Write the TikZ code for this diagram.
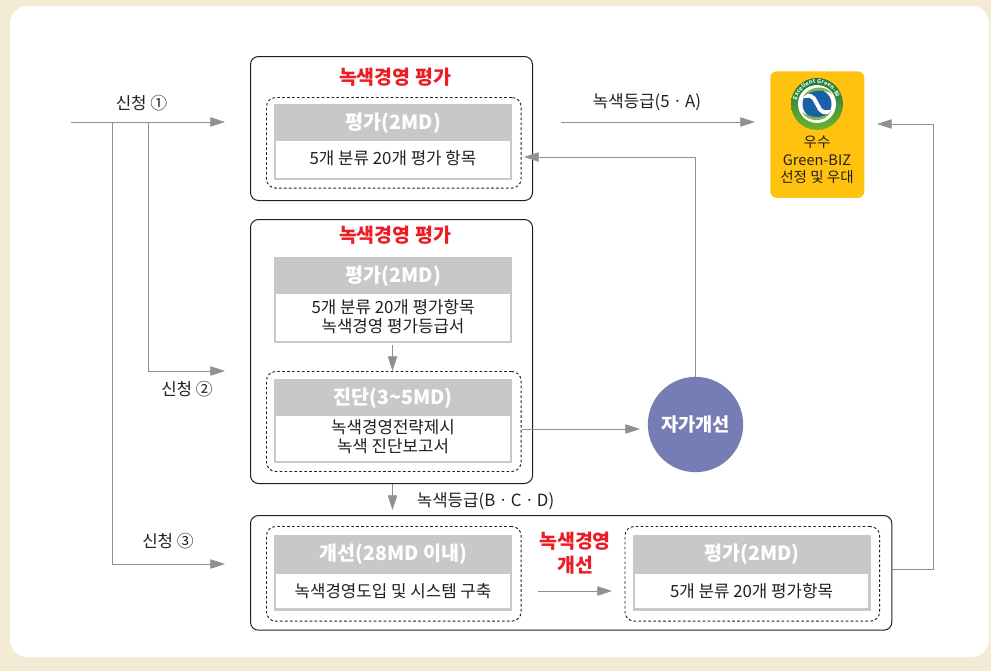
\documentclass[tikz,border=0pt]{standalone}
\usepackage{fontspec}
\setmainfont{Noto Sans CJK KR}
\usetikzlibrary{arrows.meta,positioning,decorations.text}
\definecolor{pagebg}{HTML}{F3EBD3}
\definecolor{hdrgray}{HTML}{C7C8CA}
\definecolor{linegray}{HTML}{8F9092}
\definecolor{redtxt}{HTML}{ED1C24}
\definecolor{circ}{HTML}{757DB4}
\definecolor{gold}{HTML}{FFC20E}
\definecolor{txt}{HTML}{231F20}
\definecolor{ringtop}{HTML}{1F6F45}
\definecolor{ringbot}{HTML}{6DB52D}
\definecolor{leaf}{HTML}{7CB648}
\definecolor{sblue}{HTML}{1B5FA8}
\tikzset{
 x=0.75pt,y=-0.75pt,
 outerbox/.style={draw=txt,line width=0.75pt,rounded corners=6pt,fill=white},
 dashbox/.style={draw=txt,line width=0.7pt,dash pattern=on 2pt off 1.7pt,rounded corners=7pt},
 hdr/.style={fill=hdrgray,text=white,font=\bfseries\fontsize{14.7}{16}\selectfont,inner sep=0pt,text height=10pt,text depth=0pt},
 body/.style={draw=hdrgray,line width=1.6pt,fill=white,text=txt,font=\fontsize{12.6}{14.2}\selectfont,inner sep=0pt,align=center},
 lbl/.style={text=txt,font=\fontsize{12.6}{14}\selectfont,inner sep=0pt,align=center},
 redlbl/.style={text=redtxt,font=\bfseries\fontsize{14.6}{18}\selectfont,inner sep=0pt,align=center},
 conn/.style={draw=linegray,line width=0.6pt,-{Triangle[length=11pt,width=7pt,fill=linegray]}},
}
\begin{document}
\begin{tikzpicture}
\useasboundingbox (0,0) rectangle (991,671);
\fill[pagebg] (0,0) rectangle (991,671);
\fill[white,rounded corners=13pt] (10,6) rectangle (989,657);

% outer boxes
\node[outerbox,minimum width=211.5pt,minimum height=108pt,anchor=north west] (o1) at (250,56) {};
\node[outerbox,minimum width=211.5pt,minimum height=198pt,anchor=north west] (o2) at (250,219) {};
\node[outerbox,minimum width=481pt,minimum height=86pt,anchor=north west] (o3) at (250,515) {};

% dashed boxes
\node[dashbox,minimum width=191pt,minimum height=68pt,anchor=north west] (d1) at (266,97) {};
\node[dashbox,minimum width=191pt,minimum height=75pt,anchor=north west] (d2) at (266,371) {};
\node[dashbox,minimum width=191pt,minimum height=71pt,anchor=north west] (d3) at (266,526) {};
\node[dashbox,minimum width=191pt,minimum height=71pt,anchor=north west] (d4) at (624.5,526) {};

% box 1
\node[body,minimum width=176.9pt,minimum height=31.4pt,anchor=north west] (b1) at (274,136) {5개 분류 20개 평가 항목};
\node[hdr,minimum width=178.5pt,minimum height=27.5pt,anchor=north west] (h1) at (274,104) {평가(2MD)};
% box 2
\node[body,minimum width=176.9pt,minimum height=38.15pt,anchor=north west] (b2) at (274,290) {5개 분류 20개 평가항목\\녹색경영 평가등급서};
\node[hdr,minimum width=178.5pt,minimum height=27.5pt,anchor=north west] (h2) at (274,257) {평가(2MD)};
% box 3
\node[body,minimum width=176.9pt,minimum height=37.4pt,anchor=north west] (b3) at (274,411) {녹색경영전략제시\\녹색 진단보고서};
\node[hdr,minimum width=178.5pt,minimum height=27.5pt,anchor=north west] (h3) at (274,379) {진단(3\textasciitilde5MD)};
% box 4
\node[body,minimum width=176.9pt,minimum height=27.65pt,anchor=north west] (b4) at (274,571.5) {녹색경영도입 및 시스템 구축};
\node[hdr,minimum width=178.5pt,minimum height=27.5pt,anchor=north west] (h4) at (274,535) {개선(28MD 이내)};
% box 5
\node[body,minimum width=176.9pt,minimum height=27.65pt,anchor=north west] (b5) at (632.5,571.5) {5개 분류 20개 평가항목};
\node[hdr,minimum width=178.5pt,minimum height=27.5pt,anchor=north west] (h5) at (632.5,535) {평가(2MD)};

% red titles
\node[redlbl] (t1) at (395,77) {녹색경영 평가};
\node[redlbl] (t2) at (395,235.5) {녹색경영 평가};
\node[redlbl] (t3) at (575,553.5) {녹색경영\\개선};

% circle
\node[circle,fill=circ,minimum size=71.5pt,inner sep=0pt,text=white,font=\bfseries\fontsize{14}{16}\selectfont,text height=10pt,text depth=0pt] (self) at (695.5,424.5) {자가개선};

% result card
\node[fill=gold,rounded corners=5pt,minimum width=70.5pt,minimum height=95pt,anchor=north west,inner sep=0pt] (card) at (770,71) {};
\node[lbl,font=\fontsize{10.9}{13.2}\selectfont] (cardtxt) at (817,160) {우수\\Green-BIZ\\선정 및 우대};
% logo
\coordinate (logo) at (817,104);
\shade[top color=ringtop,bottom color=ringbot] (logo) circle[radius=26];
\fill[white] (logo) circle[radius=19];
\fill[sblue] (logo) circle[radius=14.5];
\draw[white,line width=3pt,line cap=round] (805,96) .. controls (815,94) and (815,102) .. (817,104) .. controls (819,106) and (819,114) .. (829,112);
\fill[leaf] (803,97) .. controls (808,86) and (826,84) .. (832,94) .. controls (824,89) and (812,89) .. (803,97) -- cycle;
\fill[leaf] (802,112) .. controls (807,122) and (825,124) .. (831,111) .. controls (824,119) and (811,119) .. (802,112) -- cycle;
\path[decorate,decoration={text along path,text align=center,raise=0pt,
  text={|\fontsize{4.3}{5}\selectfont\bfseries\color{white!85!green}|Excellent Green-Biz}}]
  (logo) ++(-165:20.5) arc[start angle=-165,end angle=-15,radius=20.5];

% coordinates
\coordinate (s1a) at (71,122);
\coordinate (s1) at (225,122);
\coordinate (j2) at (148,122);
\coordinate (j3) at (112,122);
\coordinate (s2) at (225,371);
\coordinate (s3) at (225,564);
\coordinate (r1a) at (561,122);
\coordinate (r1) at (755,122);
\coordinate (back) at (524,157);
\coordinate (e3) at (933,124);
\coordinate (e4) at (877,124);
\coordinate (e0) at (892,569);
\coordinate (u1) at (392.5,345);
\coordinate (u2) at (392.5,371);
\coordinate (v1) at (522,429);
\coordinate (v2) at (640,429);
\coordinate (w1) at (392.5,484);
\coordinate (w2) at (392.5,510);
\coordinate (x1) at (538,591);
\coordinate (x2) at (612,591);

% connectors
\draw[conn] (s1a) -- (s1);
\draw[conn] (j2) |- (s2);
\draw[conn] (j3) |- (s3);
\draw[conn] (r1a) -- (r1);
\draw[conn] (self.north) |- (back);
\draw[conn] (u1) -- (u2);
\draw[conn] (v1) -- (v2);
\draw[conn] (w1) -- (w2);
\draw[conn] (x1) -- (x2);
\draw[conn] (e0) -| (e3) -- (e4);

% labels
\node[lbl] (l1) at (141.5,103) {신청 ①};
\node[lbl] (l2) at (187,389.5) {신청 ②};
\node[lbl] (l3) at (168,541.5) {신청 ③};
\node[lbl] (l4) at (647,102) {녹색등급(5ㆍA)};
\node[lbl] (l5) at (485.5,501) {녹색등급(BㆍCㆍD)};
\end{tikzpicture}
\end{document}
